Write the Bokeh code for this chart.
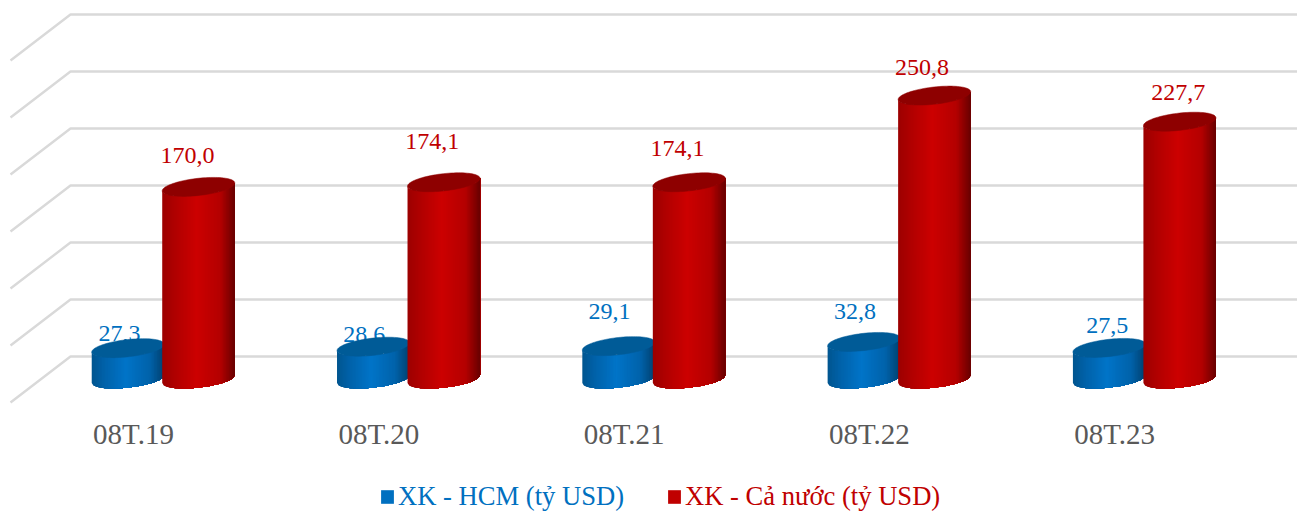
import numpy as np
from bokeh.plotting import figure
from bokeh.models import ColumnDataSource, Legend, LegendItem, Range1d
from bokeh.embed import file_html
from bokeh.resources import INLINE

# ---- data ----
categories = ["08T.19", "08T.20", "08T.21", "08T.22", "08T.23"]
hcm_values = [27.3, 28.6, 29.1, 32.8, 27.5]
vn_values = [170.0, 174.1, 174.1, 250.8, 227.7]
hcm_labels = ["27,3", "28,6", "29,1", "32,8", "27,5"]
vn_labels = ["170,0", "174,1", "174,1", "250,8", "227,7"]
grid_values = [0, 50, 100, 150, 200, 250, 300]
series_names = ["XK - HCM (tỷ USD)", "XK - Cả nước (tỷ USD)"]

# ---- style and layout ----
FONT = "Liberation Serif"
BLUE, RED, GREY = "#0070c0", "#c00000", "#595959"
GRID = "#d9d9d9"
PX_X = 245.3          # pixels per category
PX_Y = 1.13           # pixels per unit on the bar plane
GRID_PX = 1.14        # pixels per unit on the back wall (perspective)
W, H = 1297, 512
ORIGIN_X, ORIGIN_Y = 163.5, 378.5   # group 0 centre, value 0 on the bar plane (canvas px)

def dx(px):
    return px / PX_X

def dy(px):
    return px / PX_Y

# stops of the cylinder's shading
RED_STOPS = [(0, "#9c0000"), (0.18, "#b00000"), (0.47, "#cc0000"), (0.8, "#b40000"), (1, "#680000")]
BLUE_STOPS = [(0, "#00558f"), (0.18, "#0062aa"), (0.47, "#0074c8"), (0.8, "#0062aa"), (1, "#00406e")]
RED_TOP, BLUE_TOP = "#8e0000", "#005b97"

def hex2rgb(h):
    return np.array([int(h[k:k + 2], 16) for k in (1, 3, 5)], float)

def shade(stops, u):
    us = [s[0] for s in stops]
    cols = np.array([hex2rgb(s[1]) for s in stops])
    c = [np.interp(u, us, cols[:, k]) for k in range(3)]
    return "#%02x%02x%02x" % tuple(int(round(v)) for v in c)

A, B, TILT = 36.5, 8.6, np.radians(6.5)
NSTRIP = 50

def ell(t):
    x = A * np.cos(t) * np.cos(TILT) - B * np.sin(t) * np.sin(TILT)
    y = A * np.cos(t) * np.sin(TILT) + B * np.sin(t) * np.cos(TILT)
    return x, y

def cylinder(values, offset_px, stops, top_color):
    xs_body, ys_body, cols = [], [], []
    xs_top, ys_top = [], []
    eps = np.arctan2(B * np.sin(TILT), A * np.cos(TILT))
    us = np.linspace(-1, 1, NSTRIP + 1)
    ts = 2 * np.pi - np.arccos(us) - eps
    ex, ey = ell(ts)
    for i, v in enumerate(values):
        cx = i + dx(offset_px)
        # painter's strips: each reaches the right side, so no seams show
        for j in range(NSTRIP):
            ax_ = cx + dx(ex[j:])
            xs_body.append(list(ax_) + list(ax_[::-1]))
            ys_body.append(list(v + dy(ey[j:])) + list(dy(ey[j:])[::-1]))
            cols.append(shade(stops, (j + 0.5) / NSTRIP))
        tt = np.linspace(0, 2 * np.pi, 90)
        qx, qy = ell(tt)
        xs_top.append(list(cx + dx(qx)))
        ys_top.append(list(v + dy(qy)))
    p.patches(xs_body, ys_body, fill_color=cols, line_color=None)
    p.patches(xs_top, ys_top, fill_color=top_color, line_color=top_color, line_width=0.5)

x_range = Range1d(-ORIGIN_X / PX_X, (W - ORIGIN_X) / PX_X)
y_range = Range1d((ORIGIN_Y - H) / PX_Y, ORIGIN_Y / PX_Y)

p = figure(width=W, height=H, x_range=x_range, y_range=y_range, output_backend="svg",
           toolbar_location=None, x_axis_location=None, y_axis_location=None,
           min_border_left=0, min_border_right=0, min_border_top=0,
           min_border_bottom=0, outline_line_color=None,
           background_fill_color="white", border_fill_color="white")
p.grid.visible = False

# 3D wall + floor lines
BACK_X, FRONT_X = dx(70 - 163.5), dx(10 - 163.5)
END_X = x_range.end
gx, gy = [], []
for g in grid_values:
    back = dy(g * GRID_PX + ORIGIN_Y - 356)
    front = dy(g * GRID_PX + ORIGIN_Y - 402)
    gx.append([FRONT_X, BACK_X, END_X])
    gy.append([front, back, back])
p.multi_line(gx, gy, line_color=GRID, line_width=2.4)

# blue value labels sit behind the cylinders
blue_dx = [-8.5, -9, -9, -9, -2]
blue_dy = [-14.5, -12.5, -34.5, -30.5, -22.5]
red_dx = [-11, -11.5, -11.5, -12.5, -1.5]
red_dy = [-31.5, -40.5, -33.5, -28.5, -29]

src_blue = ColumnDataSource(dict(x=[i + dx(-36) for i in range(5)], y=hcm_values, t=hcm_labels,
                                 ox=blue_dx, oy=blue_dy))
src_red = ColumnDataSource(dict(x=[i + dx(34.5) for i in range(5)], y=vn_values, t=vn_labels,
                                ox=red_dx, oy=red_dy))
p.text("x", "y", text="t", source=src_blue, x_offset="ox", y_offset="oy", text_color=BLUE,
       text_font={"value": FONT}, text_font_size={"value": "24px"},
       text_align="center", text_baseline="middle")

cylinder(hcm_values, -36, BLUE_STOPS, BLUE_TOP)
cylinder(vn_values, 34.5, RED_STOPS, RED_TOP)

p.text("x", "y", text="t", source=src_red, x_offset="ox", y_offset="oy", text_color=RED,
       text_font={"value": FONT}, text_font_size={"value": "24px"},
       text_align="center", text_baseline="middle")

# category labels, set to the left of each group's centre
src_cat = ColumnDataSource(dict(x=[i + dx(-30.5) for i in range(5)], y=[dy(ORIGIN_Y - 433)] * 5, t=categories))
p.text("x", "y", text="t", source=src_cat, text_color=GREY,
       text_font={"value": FONT}, text_font_size={"value": "29px"},
       text_align="center", text_baseline="middle")

# one legend per series, since each label takes its series' colour
nan = float("nan")
r1 = p.quad(left=[nan], right=[nan], top=[nan], bottom=[nan], color=BLUE, line_color=None)
r2 = p.quad(left=[nan], right=[nan], top=[nan], bottom=[nan], color=RED, line_color=None)
legend_style = dict(orientation="horizontal", glyph_width=16, glyph_height=17, label_standoff=3,
                    padding=0, margin=0, border_line_color=None, background_fill_alpha=0,
                    label_text_font=FONT, label_text_font_size="26.6px", label_height=20)
p.add_layout(Legend(items=[LegendItem(label=series_names[0], renderers=[r1])], location=(379, 0),
                    label_text_color=BLUE, **legend_style), "center")
p.add_layout(Legend(items=[LegendItem(label=series_names[1], renderers=[r2])], location=(666, 0),
                    label_text_color=RED, **legend_style), "center")

open("out.html", "w").write(file_html(p, INLINE))
